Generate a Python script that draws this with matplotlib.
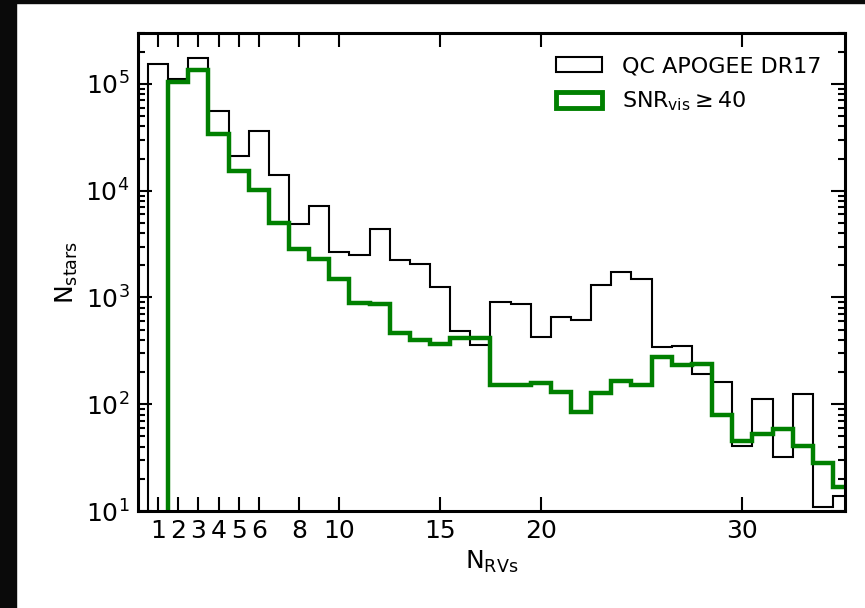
import matplotlib
matplotlib.use("Agg")
import matplotlib.pyplot as plt
import numpy as np
from matplotlib.patches import Rectangle, Patch

# ── Data (counts per N_RVs, bins of width 1 centred on integers) ──────
n_rvs_all = np.arange(1, 36)
counts_all = [155000, 112000, 176000, 56000, 21000, 36600, 14000, 4860, 7260,
              2660, 2500, 4370, 2250, 2050, 1265, 490, 362, 916, 866, 430,
              663, 616, 1312, 1738, 1485, 347, 352, 194, 162, 41, 113, 32,
              125, 11, 13.9]

n_rvs_snr = np.arange(2, 36)
counts_snr = [104000, 135000, 34100, 15300, 10200, 4970, 2840, 2290, 1485,
              885, 866, 469, 401, 367, 416, 416, 152, 153, 157, 130, 84, 128,
              166, 152, 279, 233, 237, 79.4, 45.6, 52.4, 58.7, 41, 28, 16.9]

xticks = [1, 2, 3, 4, 5, 6, 8, 10, 15, 20, 30]

fig = plt.figure(figsize=(8.65, 6.08), dpi=100)
ax = fig.add_axes([0.1595, 0.1595, 0.8174, 0.7862])

edges_all = np.append(n_rvs_all - 0.5, n_rvs_all[-1] + 0.5)
edges_snr = np.append(n_rvs_snr - 0.5, n_rvs_snr[-1] + 0.5)
ax.stairs(counts_all, edges_all, baseline=1e-3, color="black", lw=1.5)
ax.stairs(counts_snr, edges_snr, baseline=1e-3, color="green", lw=3.2)

ax.set_yscale("log")
ax.set_xlim(0, 35.1)
ax.set_ylim(10, 3.0e5)
ax.set_xticks(xticks)
ax.set_xticklabels([str(t) for t in xticks])
ax.set_xlabel(r"N$_{\rm RVs}$", fontsize=18)
ax.set_ylabel(r"N$_{\rm stars}$", fontsize=18, labelpad=4)

ax.tick_params(which="both", direction="in", top=True, right=True,
               labelsize=18, width=1.5)
ax.tick_params(which="major", length=10, pad=6)
ax.tick_params(which="minor", length=5)
ax.tick_params(axis="x", which="minor", bottom=False, top=False)
for s in ax.spines.values():
    s.set_linewidth(2.2)

handles = [Patch(facecolor="none", edgecolor="black", lw=1.5),
           Patch(facecolor="none", edgecolor="green", lw=3.5)]
labels = ["QC APOGEE DR17", r"SNR$_{\rm vis}\geq 40$"]
ax.legend(handles, labels, loc="upper right", frameon=False, fontsize=16,
          handlelength=2.1, handleheight=0.7, labelspacing=0.6,
          handletextpad=0.9, borderaxespad=0.65)

# dark slide background strips around the figure
fig.patches.append(Rectangle((0, 0), 16 / 865, 1, transform=fig.transFigure,
                             color="#0a0a0a", zorder=-1))
fig.patches.append(Rectangle((0, 1 - 3 / 608), 1, 3 / 608,
                             transform=fig.transFigure, color="#0a0a0a",
                             zorder=-1))

fig.savefig("out.png", dpi=100)
